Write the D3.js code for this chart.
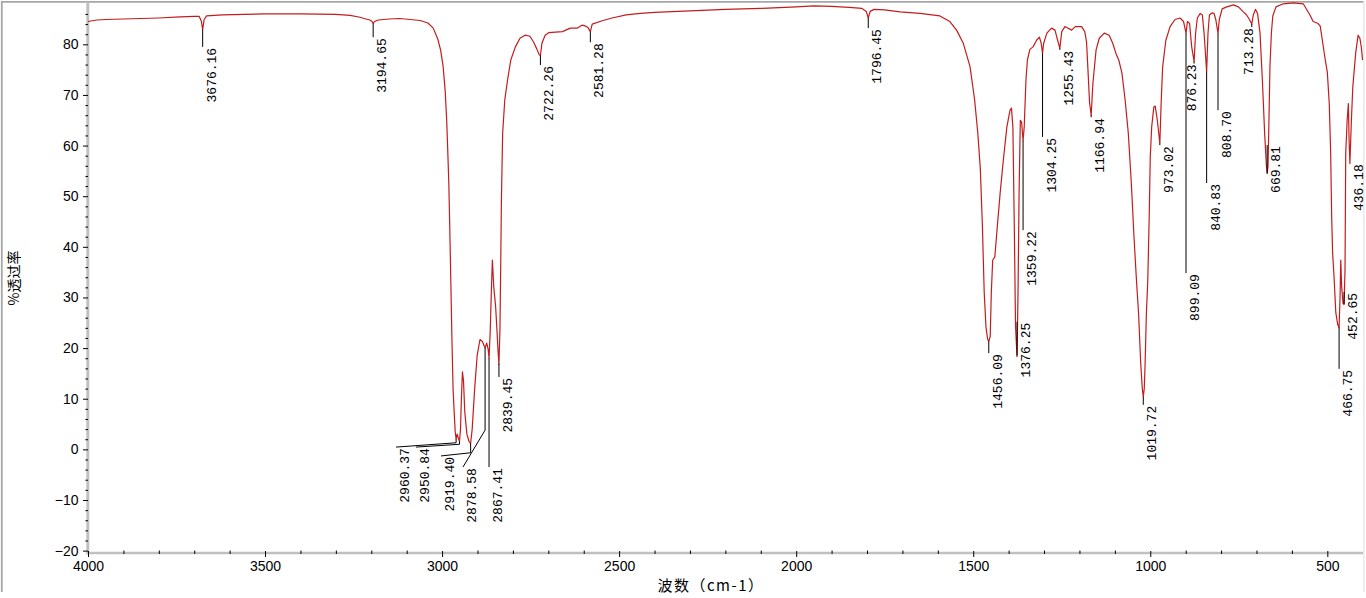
<!DOCTYPE html>
<html><head><meta charset="utf-8">
<script src="https://cdn.jsdelivr.net/npm/d3@7"></script>
<style>html,body{margin:0;padding:0;background:#fff;overflow:hidden}svg{display:block}</style>
</head><body>
<svg id="chart" width="1366" height="598"></svg>
<script>
// ---- data ----
const spectrum = [
[4000,84.5],[3975,84.8],[3950,84.9],[3900,85.0],[3850,85.1],[3800,85.2],[3740,85.4],[3700,85.5],[3686,85.5],[3680,84.6],[3676.2,82.9],[3672,84.9],[3665,85.6],[3620,85.8],[3560,85.9],[3500,86.0],[3400,86.0],[3300,85.9],[3260,85.7],[3235,85.4],[3215,85.0],[3204,84.8],[3198,84.5],[3194.7,84.1],[3191,84.5],[3180,84.8],[3150,85.0],[3120,85.1],[3090,84.9],[3062,84.7],[3040,84.2],[3025,83.2],[3012,81.0],[3004,78.8],[2997,75.6],[2991,70.5],[2987,65],[2984,59],[2981,52.5],[2978,42.7],[2975,32],[2972,21],[2969,12],[2966,7.5],[2963,3.5],[2960.4,2.0],[2957.5,3.0],[2954,2.2],[2950.8,1.6],[2948,4.0],[2945.5,10.0],[2942.5,15.3],[2939.5,13.5],[2936,7.5],[2930,3.0],[2924,1.6],[2919.4,1.2],[2915,4.0],[2908,12],[2901,18.5],[2893,21.7],[2886,21.3],[2880.5,20.3],[2878.6,20.0],[2874,21.0],[2870,19.8],[2867.4,18.0],[2864,23.5],[2861,31],[2858,37.4],[2854,32],[2849,28.4],[2845,23.5],[2842,19.5],[2839.5,16.8],[2836.5,24],[2834.5,36],[2832.5,49],[2829,62.4],[2823,69],[2815,73],[2806,76.9],[2793,79.5],[2780,81.2],[2766,81.8],[2752,81.6],[2742,80.5],[2732,79.0],[2726,78.0],[2722.3,77.8],[2718,80.2],[2709,81.8],[2699,82.3],[2660,82.5],[2638,83.2],[2618,83.2],[2604,83.8],[2595,83.6],[2588,83.3],[2581.3,82.5],[2576,84.0],[2550,84.6],[2520,85.2],[2480,85.8],[2440,86.1],[2400,86.3],[2300,86.6],[2200,86.9],[2100,87.1],[2000,87.4],[1950,87.6],[1900,87.5],[1850,87.3],[1815,87.1],[1802,86.5],[1796.5,85.2],[1791,86.5],[1780,86.9],[1750,86.8],[1707,86.4],[1650,86.1],[1594,85.6],[1566,84.5],[1547,82.8],[1528,80.2],[1509,75.6],[1496,69],[1487,62.4],[1480,55.5],[1474,44],[1469,31],[1464,24.2],[1459.5,21.8],[1456.1,21.3],[1452,22.3],[1449,30.8],[1445,37.4],[1439,38.0],[1432,44],[1424,50.6],[1415,57.1],[1405,63.7],[1396,67.0],[1392,67.4],[1388,63.7],[1384,44],[1380.5,24.2],[1376.3,18.3],[1373.5,30.8],[1370.5,50.6],[1367,65.0],[1363.5,64.7],[1359.2,61.0],[1356,63.7],[1351,73],[1347,76.9],[1340,79.0],[1331,79.5],[1321,80.8],[1313,81.4],[1308,80.2],[1304.3,78.2],[1301,80.2],[1292,82.2],[1279,83.2],[1269,82.8],[1262,80.9],[1255.4,79.2],[1250,82.5],[1241,83.5],[1222,82.8],[1212,83.5],[1194,83.5],[1185,82.5],[1180,80.5],[1176,75],[1171.5,68.5],[1166.9,66.0],[1162,72.3],[1153,78.9],[1144,81.2],[1130,82.2],[1116,81.8],[1106,80.2],[1097,78.2],[1089,76.9],[1080,74.3],[1071,69],[1062,62.4],[1053,51.9],[1046,42],[1039,33.4],[1033,26.8],[1027,17],[1022.5,12],[1019.7,10.4],[1017,12],[1014.5,17],[1011,26.8],[1007,33.4],[1003,46],[1000,57.8],[996,63.7],[990,67.6],[986,67.8],[980,65],[973.0,60.4],[969,69],[965,75.6],[956,80.8],[944,83.5],[930,84.9],[916,85.2],[906,84.5],[899.1,82.2],[895,84.5],[889,84.1],[883,79.5],[876.2,76.6],[872,82.2],[867,85.2],[859,86.1],[853,85.8],[848,82.2],[840.8,74.6],[837,82.2],[833,85.8],[826,86.2],[820,86.1],[815,84.9],[808.7,82.2],[805,84.9],[797,87],[784,87.4],[765,87.8],[751,87.4],[737,86.4],[728,85.8],[720,84.9],[713.3,84.0],[709,85.8],[703,86.9],[697,86.1],[690,82.2],[683,72.3],[677,62.4],[672,56],[669.8,54.5],[667.5,56],[665.5,62.4],[662,75.6],[658,82.2],[654,85.6],[645,87.4],[624,88.0],[596,88.2],[568,88.0],[549,85.8],[540,84.5],[526,84.1],[520,83.6],[514,80.8],[506,77],[500,74.5],[494.5,68.3],[490.5,58.5],[487.7,46],[485,38.7],[481,34.1],[476,27],[470.5,24.6],[466.8,24.0],[464,30.1],[462,37.4],[459.5,32.1],[455.5,28.8],[452.7,28.6],[450,35.4],[448,58.5],[444,65],[440.5,68.3],[438.5,61],[436.2,56.5],[432,65],[428,71.6],[420,78.2],[413,81.8],[408,81.2],[404,79.5],[400.5,76.9]
];
const peakLabels = ["3676.16","3194.65","2960.37","2950.84","2919.40","2878.58","2867.41","2839.45","2722.26","2581.28","1796.45","1456.09","1376.25","1359.22","1304.25","1255.43","1166.94","1019.72","973.02","899.09","876.23","840.83","808.70","713.28","669.81","466.75","452.65","436.18"];
const peakWavenumbers = peakLabels.map(Number);
const yTicks = [-20,-10,0,10,20,30,40,50,60,70,80];
const yTickLabels = ["\u221220","\u221210","0","10","20","30","40","50","60","70","80"];
const xTicks = [4000,3500,3000,2500,2000,1500,1000,500];
const xTickLabels = ["4000","3500","3000","2500","2000","1500","1000","500"];
const xTitle = "波数（cm-1）";
const yTitle = "%透过率";

// ---- label layout (top of label in %T, optional label/leader wavenumber and bends) ----
const labelLayout = [
 {top:79.5},{top:81.4},
 {top:0.45, lx:3130, via:[[2960.37,1.3]]},
 {top:0.45, lx:3074, via:[[2950.84,1.0]]},
 {top:-1.3, lx:3003, via:[[2919.40,-0.67]]},
 {top:-3.5, lx:2941, via:[[2878.58,3.8]]},
 {top:-3.5},{top:14.3},{top:75.9},{top:80.4},{top:83.2},{top:19.0},{top:25.2},{top:43.3},{top:61.7},{top:78.9},{top:65.6},{top:8.8},{top:60.1},{top:34.8},
 {top:76.2, lx:908, free:true},
 {top:52.6},{top:67.0},
 {top:83.4, lx:747, free:true},
 {top:60.1},{top:15.9},{top:31.1},{top:56.5}
];

// ---- drawing ----
const svg = d3.select("#chart");
const x = d3.scaleLinear().domain([4000, 400]).range([88, 88 + 3600 * 0.35409]);
const y = d3.scaleLinear().domain([-20.47, 88.16]).range([553, 3]);

// frame
const frameColor = "#a6a6a6";
svg.append("line").attr("x1",1.8).attr("x2",1.8).attr("y1",1).attr("y2",592).attr("stroke",frameColor).attr("stroke-width",1.8);
svg.append("line").attr("x1",1).attr("x2",1364).attr("y1",1.8).attr("y2",1.8).attr("stroke",frameColor).attr("stroke-width",1.8);
svg.append("line").attr("x1",1363.8).attr("x2",1363.8).attr("y1",1).attr("y2",592).attr("stroke","#e4e4e4").attr("stroke-width",1.2);

// axis lines
svg.append("line").attr("x1",87.8).attr("x2",87.8).attr("y1",2).attr("y2",554.3).attr("stroke","#c0c0c0").attr("stroke-width",3);
svg.append("line").attr("x1",86.3).attr("x2",1363).attr("y1",553).attr("y2",553).attr("stroke","#c0c0c0").attr("stroke-width",2.6);

const tickFont = "'Liberation Sans', Arial, sans-serif";
// y axis minor
const yMinor = d3.range(-20, 88, 2).filter(v => v % 10 !== 0);
svg.append("g").attr("transform","translate(88,0)")
  .call(d3.axisLeft(y).tickValues(yMinor).tickSize(2.6).tickFormat(""))
  .call(g => g.select(".domain").remove())
  .call(g => g.selectAll("line").attr("stroke","#000"));
svg.append("g").attr("transform","translate(88,0)")
  .call(d3.axisLeft(y).tickValues(yTicks).tickSize(5).tickPadding(4.5).tickFormat((d,i) => yTickLabels[i]))
  .call(g => g.select(".domain").remove())
  .call(g => g.selectAll("line").attr("stroke","#000"))
  .call(g => g.selectAll("text").attr("fill","#000").style("font-family",tickFont).style("font-size","14px"));

// x axis minor
const xMinor = d3.range(4000, 400, -100).filter(v => v % 500 !== 0);
svg.append("g").attr("transform","translate(0,550.5)")
  .call(d3.axisBottom(x).tickValues(xMinor).tickSize(3.5).tickFormat(""))
  .call(g => g.select(".domain").remove())
  .call(g => g.selectAll("line").attr("stroke","#000"));
svg.append("g").attr("transform","translate(0,551)")
  .call(d3.axisBottom(x).tickValues(xTicks).tickSize(6).tickPadding(4).tickFormat((d,i) => xTickLabels[i]))
  .call(g => g.select(".domain").remove())
  .call(g => g.selectAll("line").attr("stroke","#000"))
  .call(g => g.selectAll("text").attr("fill","#000").style("font-family",tickFont).style("font-size","14px"));

// titles
svg.append("text").attr("x",711).attr("y",591).attr("text-anchor","middle")
  .style("font-family","'Noto Sans CJK SC', sans-serif").style("font-size","15px").style("letter-spacing","1.5px").text(xTitle);
svg.append("text").attr("transform","translate(19,278) rotate(-90)").attr("text-anchor","middle")
  .style("font-family","'Noto Sans CJK SC', sans-serif").style("font-size","14px").text(yTitle);

// spectrum
const line = d3.line().x(d => x(d[0])).y(d => y(d[1]));
svg.append("path").datum(spectrum).attr("d", line)
  .attr("fill","none").attr("stroke","#c41c1c").attr("stroke-width",1.2).attr("stroke-linejoin","round");

// interpolated %T at a wavenumber
function tAt(w){
  for (let i = 0; i < spectrum.length - 1; i++){
    const a = spectrum[i], b = spectrum[i+1];
    if (w <= a[0] && w >= b[0]) { const f = (a[0]-w)/(a[0]-b[0]); return a[1] + f*(b[1]-a[1]); }
  }
  return spectrum[spectrum.length-1][1];
}

// peak leaders and labels
const pk = svg.append("g");
peakWavenumbers.forEach((w, i) => {
  const L = labelLayout[i];
  const pts = [[w, tAt(w)]];
  (L.via || []).forEach(p => pts.push(p));
  const lw = L.lx !== undefined ? L.lx : w;
  pts.push([L.free ? w : lw, L.top]);
  pk.append("path").attr("d", d3.line().x(d => x(d[0])).y(d => y(d[1]))(pts))
    .attr("fill","none").attr("stroke","#000").attr("stroke-width",1);
  pk.append("text")
    .attr("transform", `translate(${x(lw) + 13},${y(L.top) + 1}) rotate(-90)`)
    .attr("text-anchor","end")
    .style("font-family","'Liberation Mono', 'DejaVu Sans Mono', monospace")
    .style("font-size","13px").attr("fill","#000")
    .text(peakLabels[i]);
});
</script>
</body></html>
